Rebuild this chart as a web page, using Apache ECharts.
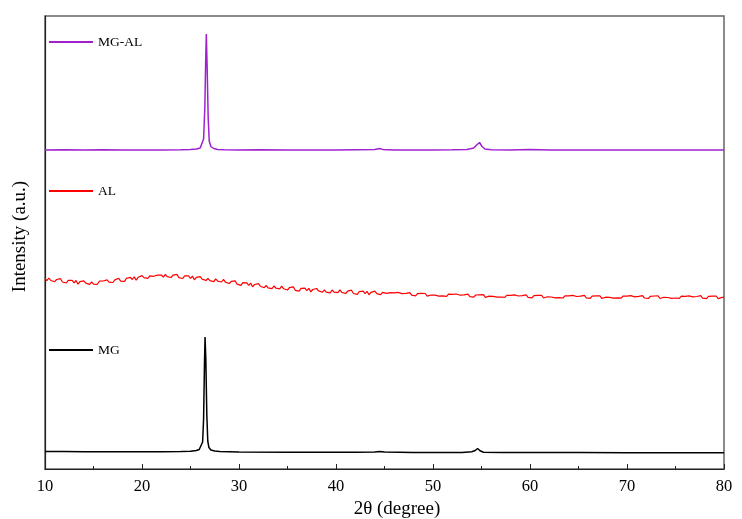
<!DOCTYPE html>
<html>
<head>
<meta charset="utf-8">
<script src="https://cdn.jsdelivr.net/npm/echarts@6/dist/echarts.min.js"></script>
<style>
  html, body { margin: 0; padding: 0; background: #fff; }
  #chart { width: 742px; height: 519px; }
</style>
</head>
<body>
<div id="chart"></div>
<script>
// 2θ ticks
const xTicks = [10, 20, 30, 40, 50, 60, 70, 80];

// MG-AL pattern [2θ, intensity]
const mgalData = [
  [10, 319], [12, 319.3], [14, 319], [16, 319.2], [18, 318.9], [20, 319], [22, 319.1],
  [24, 319.3], [25, 319.5], [25.6, 320], [26.0, 321], [26.2, 323], [26.35, 330],
  [26.48, 362], [26.56, 405], [26.63, 435], [26.72, 400], [26.82, 352], [26.93, 328],
  [27.1, 322.5], [27.4, 320.5], [27.8, 319.6], [28.5, 319.2], [30, 319], [32, 319.2],
  [35, 319], [38, 319.1], [40, 319], [42, 319.2], [44, 319.4], [44.5, 320.5], [44.8, 319.6],
  [46, 319.1], [48, 319], [50, 319.1], [52, 319.2], [53.5, 319.5], [54.2, 321],
  [54.5, 324], [54.8, 326.5], [55.05, 322.5], [55.35, 320], [56, 319.3], [58, 319.1],
  [60, 319.4], [62, 319], [65, 319.1], [68, 319], [70, 319.1], [72, 319], [75, 319.1],
  [78, 319], [80, 319]
];

// AL pattern, sampled from 10° in 0.2° steps (one row per degree)
const alStart = 10;
const alStep = 0.2;
const alValues = [
  190.7, 188.4, 191.0, 188.5, 189.3,
  187.3, 189.5, 188.2, 190.3, 187.0,
  188.6, 186.0, 188.7, 186.9, 188.7,
  186.2, 188.5, 184.8, 187.3, 186.2,
  188.2, 185.8, 187.0, 184.7, 187.1,
  184.9, 186.5, 184.7, 187.8, 185.9,
  188.0, 186.0, 189.1, 186.9, 188.2,
  186.5, 189.1, 188.2, 190.7, 187.8,
  189.8, 187.6, 190.7, 189.4, 191.6,
  189.5, 192.1, 188.9, 191.7, 191.1,
  193.4, 191.3, 192.6, 190.6, 193.1,
  191.2, 192.7, 190.9, 193.9, 192.0,
  194.0, 191.8, 194.7, 192.3, 193.3,
  191.5, 193.8, 192.5, 194.7, 191.4,
  193.1, 190.5, 193.2, 191.4, 193.2,
  190.7, 192.9, 189.2, 191.6, 190.5,
  192.4, 189.9, 190.9, 188.5, 190.7,
  188.4, 189.6, 187.4, 190.1, 187.8,
  189.5, 187.0, 189.6, 186.9, 187.7,
  185.5, 187.6, 186.2, 188.2, 184.8,
  186.3, 183.7, 186.3, 184.5, 186.2,
  183.7, 185.9, 182.2, 184.5, 183.4,
  185.3, 182.8, 183.8, 181.3, 183.5,
  181.2, 182.4, 180.3, 183.0, 180.8,
  182.5, 180.1, 182.8, 180.2, 181.1,
  179.0, 181.3, 179.9, 182.1, 178.7,
  180.4, 177.9, 180.7, 178.9, 180.8,
  178.4, 180.7, 177.1, 179.5, 178.5,
  180.5, 178.1, 179.2, 176.8, 179.1,
  176.9, 178.2, 176.2, 179.0, 176.9,
  178.7, 176.4, 179.1, 176.6, 177.5,
  175.5, 177.8, 176.5, 178.8, 175.5,
  177.2, 174.7, 177.5, 175.9, 177.8,
  175.4, 177.7, 174.2, 176.7, 175.8,
  177.8, 175.4, 176.6, 174.3, 176.7,
  174.8, 175.7, 174.3, 176.4, 174.9,
  176.2, 174.4, 176.6, 174.6, 175.4,
  173.9, 175.6, 174.7, 176.3, 173.9,
  175.2, 173.2, 175.4, 174.1, 175.6,
  173.8, 175.5, 172.9, 174.7, 174.0,
  175.5, 173.8, 174.6, 172.9, 174.7,
  173.1, 174.1, 172.6, 174.8, 173.2,
  174.6, 172.9, 175.0, 173.1, 173.8,
  172.4, 174.2, 173.2, 174.9, 172.4,
  173.8, 171.9, 174.0, 172.8, 174.2,
  172.5, 174.3, 171.7, 173.5, 172.8,
  174.4, 172.7, 173.5, 171.8, 173.6,
  172.0, 173.0, 171.6, 173.7, 172.2,
  173.6, 171.9, 174.1, 172.2, 173.0,
  171.5, 173.3, 172.4, 174.1, 171.7,
  173.0, 171.1, 173.3, 172.1, 173.6,
  171.8, 173.6, 171.0, 172.9, 172.2,
  173.7, 172.0, 172.9, 171.2, 173.1,
  171.4, 172.4, 171.0, 173.2, 171.7,
  173.1, 171.4, 173.6, 171.7, 172.5,
  171.0, 172.8, 171.9, 173.6, 171.2,
  172.6, 170.7, 172.9, 171.7, 173.2,
  171.4, 173.2, 170.6, 172.5, 171.8,
  173.4, 171.7, 172.6, 170.9, 172.8,
  171.2, 172.2, 170.8, 173.0, 171.5,
  172.8, 171.1, 173.3, 171.4, 172.2,
  170.8, 172.6, 171.7, 173.4, 171.0,
  172.4, 170.5, 172.7, 171.5, 173.0,
  171.3, 173.1, 170.5, 172.4, 171.7,
  173.2, 171.5, 172.4, 170.7, 172.6,
  171.0, 172.0, 170.6, 172.8, 171.3,
  172.7, 171.0, 173.2, 171.3, 172.1,
  170.7, 172.5, 171.6, 173.3, 170.9,
  172.3, 170.4, 172.6, 171.4, 172.9,
  171.2, 173.0, 170.4, 172.3, 171.6,
  171.9
];

// MG pattern [2θ, intensity]
const mgData = [
  [10, 17.5], [12, 17.4], [14, 17.3], [16, 17.3], [18, 17.2], [20, 17.2], [22, 17.3],
  [24, 17.5], [25, 17.8], [25.6, 18.5], [25.9, 19.5], [26.1, 21.5], [26.25, 27],
  [26.35, 50], [26.44, 105], [26.5, 132], [26.58, 110], [26.68, 55], [26.78, 28],
  [26.9, 21.5], [27.1, 19], [27.5, 18], [28, 17.5], [30, 17], [35, 16.8], [40, 16.7],
  [42, 16.8], [44, 17], [44.5, 17.6], [45, 16.9], [48, 16.6], [50, 16.6], [53, 16.6],
  [54, 17.2], [54.35, 18.5], [54.6, 20.5], [54.85, 18.2], [55.2, 16.8], [57, 16.5],
  [60, 16.4], [65, 16.4], [70, 16.3], [75, 16.3], [80, 16.2]
];

const alData = alValues.map(function (v, i) {
  return [+(alStart + i * alStep).toFixed(2), v];
});

var dom = document.getElementById('chart');
var myChart = echarts.init(dom, null, { renderer: 'canvas' });

const serif = 'Liberation Serif';
const legendText = { fontFamily: serif, fontSize: 13.5, color: '#000' };

function legendAt(name, top) {
  return {
    data: [name],
    left: 44,
    top: top,
    icon: 'rect',
    itemWidth: 44,
    itemHeight: 2,
    itemGap: 6,
    textStyle: legendText,
    selectedMode: false
  };
}

var option = {
  backgroundColor: '#fff',
  animation: false,
  grid: {
    left: 45,
    right: 18,
    top: 16,
    bottom: 50,
    outerBoundsMode: 'none',
    containLabel: false,
    show: true,
    borderColor: '#666',
    borderWidth: 1.5
  },
  legend: [
    legendAt('MG-AL', 30),
    legendAt('AL', 179),
    legendAt('MG', 338)
  ],
  xAxis: {
    type: 'value',
    min: 10,
    max: 80,
    interval: 10,
    name: '2θ (degree)',
    nameLocation: 'middle',
    nameGap: 29,
    nameTextStyle: { fontFamily: serif, fontSize: 19, color: '#000', padding: [0, 0, 0, 25] },
    axisLine: { lineStyle: { color: '#222', width: 1.2 } },
    axisTick: { inside: true, length: 5, lineStyle: { color: '#222' } },
    minorTick: { show: true, splitNumber: 2, length: 3, lineStyle: { color: '#222' } },
    splitLine: { show: false },
    axisLabel: {
      fontFamily: serif,
      fontSize: 16.5,
      color: '#000',
      margin: 9,
      formatter: function (v) {
        return xTicks.indexOf(v) >= 0 ? String(v) : '';
      }
    }
  },
  yAxis: {
    type: 'value',
    min: 0,
    max: 453,
    name: 'Intensity (a.u.)',
    nameLocation: 'middle',
    nameGap: 15,
    nameTextStyle: { fontFamily: serif, fontSize: 19, color: '#000', padding: [0, 0, 0, 12] },
    axisLine: { show: true, lineStyle: { color: '#222', width: 1.2 } },
    axisTick: { show: false },
    axisLabel: { show: false },
    splitLine: { show: false }
  },
  series: [
    {
      name: 'MG-AL',
      type: 'line',
      data: mgalData,
      symbol: 'none',
      lineStyle: { color: '#A020D0', width: 1.5 },
      itemStyle: { color: '#A020D0' }
    },
    {
      name: 'AL',
      type: 'line',
      data: alData,
      symbol: 'none',
      sampling: false,
      lineStyle: { color: '#FF0000', width: 1.2 },
      itemStyle: { color: '#FF0000' }
    },
    {
      name: 'MG',
      type: 'line',
      data: mgData,
      symbol: 'none',
      lineStyle: { color: '#000', width: 1.5 },
      itemStyle: { color: '#000' }
    }
  ]
};

myChart.setOption(option);
window.addEventListener('resize', myChart.resize);
</script>
</body>
</html>
